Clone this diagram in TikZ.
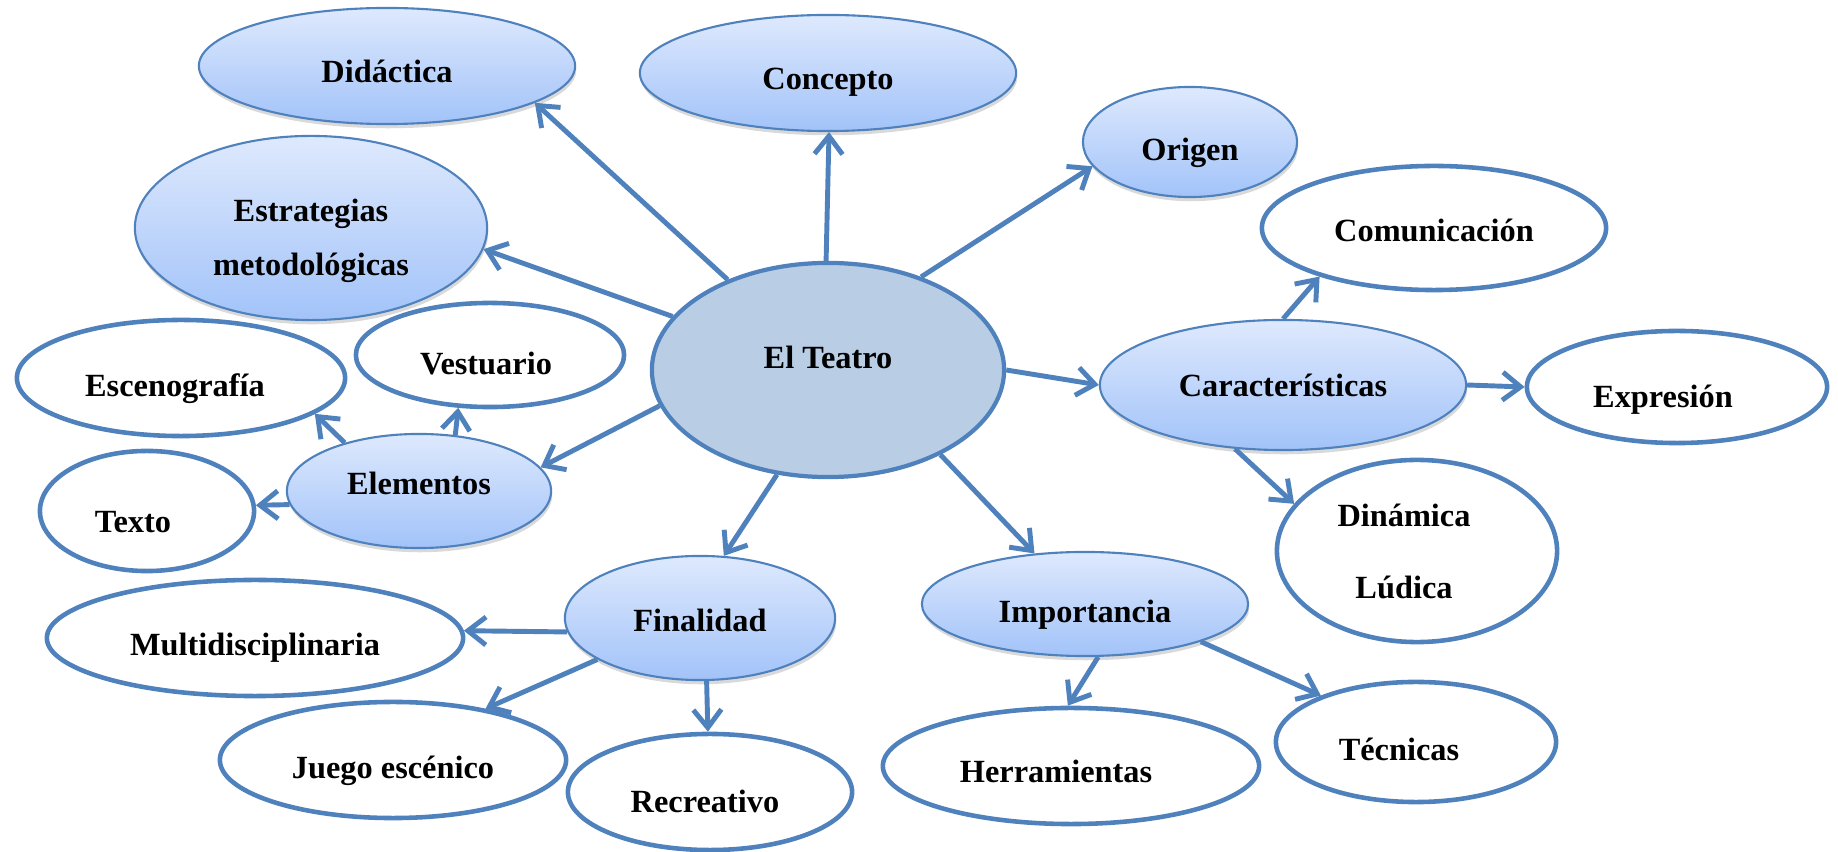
\documentclass[tikz,border=0pt]{standalone}
\usepackage{fontspec}
\setmainfont{Liberation Serif}
\usepackage{tikz}
\usetikzlibrary{shapes.geometric}
\usetikzlibrary{arrows.meta}
\usetikzlibrary{shadows}
\definecolor{borde}{RGB}{79,129,189}
\definecolor{claro}{RGB}{222,233,253}
\definecolor{oscuro}{RGB}{162,195,249}
\definecolor{fondo}{RGB}{185,205,229}
\newlength{\pxu}
\setlength{\pxu}{0.01cm}
% shift the text inside its ellipse (x right, y down, in px)
\newcommand{\mover}[3]{\raisebox{-#2\pxu}[\height][\depth]{\hspace*{#1\pxu}#3\hspace*{-#1\pxu}}}
\tikzset{tema/.style={ellipse, inner sep=0pt, align=center, font=\bfseries\fontsize{9.2}{11}\selectfont}}
\tikzset{idea/.style={tema, draw=borde, line width=.6pt, top color=claro, bottom color=oscuro,
  drop shadow={shadow xshift=.3pt, shadow yshift=-1.2pt, opacity=.25, fill=black!60}}}
\tikzset{hoja/.style={tema, draw=borde, line width=1.3pt, fill=white}}
\tikzset{nucleo/.style={tema, draw=borde, line width=1.2pt, fill=fondo}}
\tikzset{flecha/.style={draw=borde, line width=1.4pt, -{Straight Barb[length=1.8mm, width=2.8mm]}}}

\begin{document}
\begin{tikzpicture}[x=0.01cm,y=-0.01cm]
  \useasboundingbox (0,0) rectangle (1838,852);
  \foreach \sty/\x/\y/\rx/\ry/\dx/\dy/\lab/\txt in {
    nucleo/828/370/176/107/0/-13/teatro/El Teatro,
    idea/387/66/188/58/0/5/didactica/Didáctica,
    idea/828/73/188/58/0/9/concepto/Concepto,
    idea/1190/142/107/55/0/11/origen/Origen,
    idea/311/228/176/92/0/13/estrategias/{\begin{tabular}{@{}c@{}}Estrategias\\[4.4pt]metodológicas\end{tabular}},
    idea/1283/385/183/65/0/0/caracteristicas/Características,
    idea/419/491/132/57/0/-8/elementos/Elementos,
    idea/700/618/135/62/0/2/finalidad/Finalidad,
    idea/1085/604/163/52/0/11/importancia/Importancia,
    hoja/1434/228/172/62/0/2/comunicacion/Comunicación,
    hoja/1677/387/150/56/-14/13/expresion/Expresión,
    hoja/1417/551/140/91/-13/4/dinamica/{\begin{tabular}{@{}c@{}}Dinámica\\[9.5pt]Lúdica\end{tabular}},
    hoja/181/378/164/58/-6/11/escenografia/Escenografía,
    hoja/490/355/134/52/-4/9/vestuario/Vestuario,
    hoja/147/511/107/60/-14/11/texto/Texto,
    hoja/255/638/208/58/0/10/multi/Multidisciplinaria,
    hoja/393/760/173/58/0/11/juego/Juego escénico,
    hoja/710/792/142/58/-5/9/recreativo/Recreativo,
    hoja/1071/766/188/58/-15/5/herramientas/Herramientas,
    hoja/1416/742/140/60/-17/7/tecnicas/Técnicas%
  } {
    \node[\sty, minimum width=\rx*0.02cm, minimum height=\ry*0.02cm] (\lab) at (\x, \y) {\mover{\dx}{\dy}{\txt}};
  }
  \foreach \u/\a/\v/\b in {
    teatro/138/didactica/-14,
    teatro/91/concepto/-89,
    teatro/45/origen/-166,
    teatro/161/estrategias/-7,
    teatro/0/caracteristicas/180,
    teatro/192/elementos/11,
    teatro/-116/finalidad/69,
    teatro/-37/importancia/135,
    caracteristicas/90/comunicacion/-157,
    caracteristicas/0/expresion/180,
    caracteristicas/-127/dinamica/159,
    elementos/147/escenografia/-15,
    elementos/57/vestuario/-121,
    elementos/-174/texto/3,
    finalidad/-174/multi/2,
    finalidad/-158/juego/29,
    finalidad/-84/recreativo/92,
    importancia/-76/herramientas/93,
    importancia/-18/tecnicas/154%
  }{
    \draw[flecha] (\u.\a) -- (\v.\b);
  }
\end{tikzpicture}
\end{document}
